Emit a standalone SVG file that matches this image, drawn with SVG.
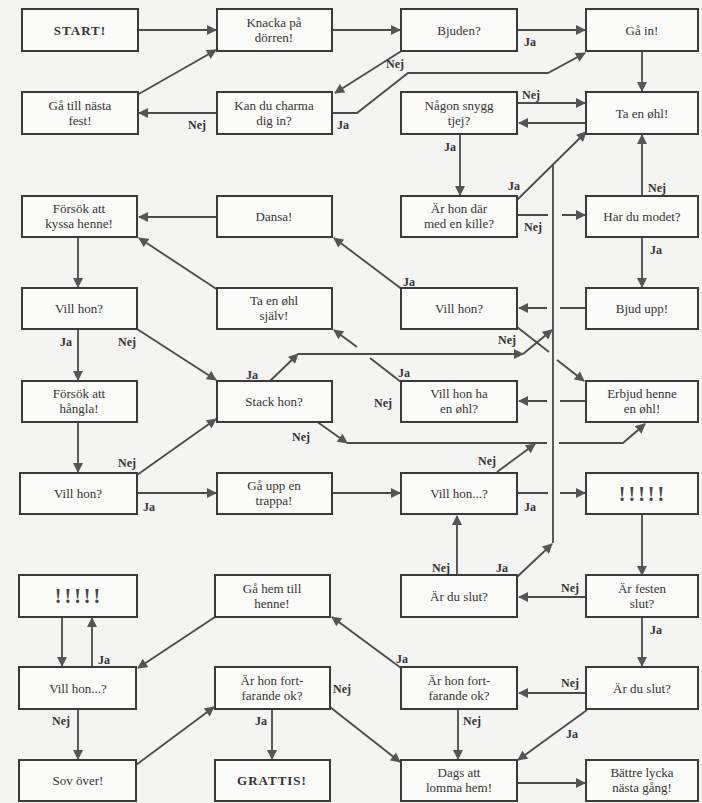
<svg xmlns="http://www.w3.org/2000/svg" width="702" height="803" viewBox="0 0 702 803">
<style>
.b{fill:#fbfbf9;stroke:#3a3a3a;stroke-width:2}
.t{font-family:"Liberation Serif","DejaVu Serif",serif;font-size:13px;fill:#333;text-anchor:middle}
.tb{font-family:"Liberation Serif","DejaVu Serif",serif;font-size:13px;font-weight:bold;fill:#333;text-anchor:middle;letter-spacing:1px}
.x{font-family:"Liberation Serif","DejaVu Serif",serif;font-size:20px;font-weight:bold;fill:#444;text-anchor:middle;letter-spacing:3px}
.l{font-family:"Liberation Serif","DejaVu Serif",serif;font-size:12px;font-weight:bold;fill:#333}
.c path{fill:none;stroke:#4a4a4a;stroke-width:1.8}
</style>
<defs>
<marker id="a" viewBox="0 0 10 10" refX="9" refY="5" markerWidth="11" markerHeight="10" orient="auto" markerUnits="userSpaceOnUse"><path d="M0,0 L10,5 L0,10 z" fill="#555"/></marker>
</defs>
<rect width="702" height="803" fill="#f4f4f2"/>

<g class="c" id="connectors">
<path d="M138,30 H216" marker-end="url(#a)"/>
<path d="M332,30 H400" marker-end="url(#a)"/>
<path d="M517,30 H585" marker-end="url(#a)"/>
<path d="M403,50 L335,93" marker-end="url(#a)"/>
<path d="M332,113 H357 L408,73 H548 L585,53" marker-end="url(#a)"/>
<path d="M217,113 H139" marker-end="url(#a)"/>
<path d="M137,95 L216,50" marker-end="url(#a)"/>
<path d="M642,51 V91" marker-end="url(#a)"/>
<path d="M517,103 H585" marker-end="url(#a)"/>
<path d="M586,123 H519" marker-end="url(#a)"/>
<path d="M460,134 V195" marker-end="url(#a)"/>
<path d="M517,200 L586,132" marker-end="url(#a)"/>
<path d="M553,543 V165"/>
<path d="M518,215 H548 M562,215 H585" marker-end="url(#a)"/>
<path d="M642,196 V135" marker-end="url(#a)"/>
<path d="M642,238 V287" marker-end="url(#a)"/>
<path d="M586,308 H560 M547,308 H519" marker-end="url(#a)"/>
<path d="M403,290 L334,238" marker-end="url(#a)"/>
<path d="M217,217 H139" marker-end="url(#a)"/>
<path d="M218,290 L139,238" marker-end="url(#a)"/>
<path d="M401,382 L370,358 M357,347 L334,330" marker-end="url(#a)"/>
<path d="M78,238 V287" marker-end="url(#a)"/>
<path d="M78,329 V380" marker-end="url(#a)"/>
<path d="M137,329 L216,380" marker-end="url(#a)"/>
<path d="M78,422 V472" marker-end="url(#a)"/>
<path d="M137,475 L216,419" marker-end="url(#a)"/>
<path d="M137,493 H216" marker-end="url(#a)"/>
<path d="M270,381 L298,354" marker-end="url(#a)"/>
<path d="M298,354 H523" marker-end="url(#a)"/>
<path d="M523,354 L552,330" marker-end="url(#a)"/>
<path d="M316,421 L347,443" marker-end="url(#a)"/>
<path d="M347,443 H547 M559,443 H623 L645,424" marker-end="url(#a)"/>
<path d="M517,327 L549,352 M557,360 L584,381" marker-end="url(#a)"/>
<path d="M497,472 L535,444" marker-end="url(#a)"/>
<path d="M586,401 H560 M547,401 H519" marker-end="url(#a)"/>
<path d="M332,493 H400" marker-end="url(#a)"/>
<path d="M517,493 H548 M560,493 H585" marker-end="url(#a)"/>
<path d="M642,515 V575" marker-end="url(#a)"/>
<path d="M586,597 H519" marker-end="url(#a)"/>
<path d="M457,576 V516" marker-end="url(#a)"/>
<path d="M517,577 L552,544" marker-end="url(#a)"/>
<path d="M642,617 V666" marker-end="url(#a)"/>
<path d="M586,693 H519" marker-end="url(#a)"/>
<path d="M587,710 L518,760" marker-end="url(#a)"/>
<path d="M458,709 V759" marker-end="url(#a)"/>
<path d="M401,668 L332,617" marker-end="url(#a)"/>
<path d="M517,783 H585" marker-end="url(#a)"/>
<path d="M215,617 L138,668" marker-end="url(#a)"/>
<path d="M62,617 V666" marker-end="url(#a)"/>
<path d="M92,667 V618" marker-end="url(#a)"/>
<path d="M78,709 V759" marker-end="url(#a)"/>
<path d="M136,765 L214,707" marker-end="url(#a)"/>
<path d="M272,709 V759" marker-end="url(#a)"/>
<path d="M330,707 L400,762" marker-end="url(#a)"/>
</g>

<g id="labels" class="l">
<text x="524" y="46">Ja</text>
<text x="386" y="68">Nej</text>
<text x="337" y="129">Ja</text>
<text x="188" y="129">Nej</text>
<text x="522" y="99">Nej</text>
<text x="444" y="151">Ja</text>
<text x="508" y="190">Ja</text>
<text x="524" y="231">Nej</text>
<text x="648" y="192">Nej</text>
<text x="650" y="254">Ja</text>
<text x="403" y="286">Ja</text>
<text x="498" y="344">Nej</text>
<text x="60" y="346">Ja</text>
<text x="118" y="346">Nej</text>
<text x="246" y="379">Ja</text>
<text x="398" y="377">Ja</text>
<text x="374" y="407">Nej</text>
<text x="292" y="441">Nej</text>
<text x="118" y="467">Nej</text>
<text x="143" y="511">Ja</text>
<text x="478" y="465">Nej</text>
<text x="524" y="511">Ja</text>
<text x="432" y="572">Nej</text>
<text x="496" y="572">Ja</text>
<text x="561" y="592">Nej</text>
<text x="650" y="634">Ja</text>
<text x="98" y="664">Ja</text>
<text x="396" y="663">Ja</text>
<text x="561" y="687">Nej</text>
<text x="333" y="693">Nej</text>
<text x="52" y="725">Nej</text>
<text x="255" y="725">Ja</text>
<text x="463" y="725">Nej</text>
<text x="566" y="738">Ja</text>
</g>

<g id="start"><rect class="b" x="22" y="9" width="116" height="42"/><text class="tb" x="80" y="35">START!</text></g>
<g id="knacka"><rect class="b" x="217" y="9" width="115" height="42"/><text class="t" x="274" y="27">Knacka på</text><text class="t" x="274" y="42">dörren!</text></g>
<g id="bjuden"><rect class="b" x="401" y="9" width="116" height="42"/><text class="t" x="459" y="35">Bjuden?</text></g>
<g id="gain"><rect class="b" x="586" y="9" width="112" height="42"/><text class="t" x="642" y="35">Gå in!</text></g>

<g id="nastafest"><rect class="b" x="22" y="92" width="116" height="42"/><text class="t" x="80" y="110">Gå till nästa</text><text class="t" x="80" y="125">fest!</text></g>
<g id="charma"><rect class="b" x="217" y="92" width="115" height="42"/><text class="t" x="274" y="110">Kan du charma</text><text class="t" x="274" y="125">dig in?</text></g>
<g id="snygg"><rect class="b" x="401" y="92" width="116" height="42"/><text class="t" x="459" y="110">Någon snygg</text><text class="t" x="459" y="125">tjej?</text></g>
<g id="taenohl"><rect class="b" x="586" y="92" width="112" height="42"/><text class="t" x="642" y="118">Ta en øhl!</text></g>

<g id="kyssa"><rect class="b" x="22" y="196" width="115" height="41"/><text class="t" x="79" y="213">Försök att</text><text class="t" x="79" y="228">kyssa henne!</text></g>
<g id="dansa"><rect class="b" x="217" y="196" width="115" height="41"/><text class="t" x="274" y="221">Dansa!</text></g>
<g id="kille"><rect class="b" x="401" y="196" width="116" height="41"/><text class="t" x="459" y="213">Är hon där</text><text class="t" x="459" y="228">med en kille?</text></g>
<g id="modet"><rect class="b" x="586" y="196" width="112" height="41"/><text class="t" x="642" y="221">Har du modet?</text></g>

<g id="villhon1"><rect class="b" x="22" y="288" width="115" height="41"/><text class="t" x="79" y="313">Vill hon?</text></g>
<g id="sjalv"><rect class="b" x="217" y="288" width="115" height="41"/><text class="t" x="274" y="305">Ta en øhl</text><text class="t" x="274" y="320">själv!</text></g>
<g id="villhon2"><rect class="b" x="401" y="288" width="116" height="41"/><text class="t" x="459" y="313">Vill hon?</text></g>
<g id="bjudupp"><rect class="b" x="586" y="288" width="112" height="41"/><text class="t" x="642" y="313">Bjud upp!</text></g>

<g id="hangla"><rect class="b" x="22" y="381" width="115" height="41"/><text class="t" x="79" y="398">Försök att</text><text class="t" x="79" y="413">hångla!</text></g>
<g id="stack"><rect class="b" x="217" y="381" width="115" height="41"/><text class="t" x="274" y="406">Stack hon?</text></g>
<g id="villohl"><rect class="b" x="401" y="381" width="116" height="41"/><text class="t" x="459" y="398">Vill hon ha</text><text class="t" x="459" y="413">en øhl?</text></g>
<g id="erbjud"><rect class="b" x="586" y="381" width="112" height="41"/><text class="t" x="642" y="398">Erbjud henne</text><text class="t" x="642" y="413">en øhl!</text></g>

<g id="villhon3"><rect class="b" x="20" y="473" width="117" height="41"/><text class="t" x="78" y="498">Vill hon?</text></g>
<g id="trappa"><rect class="b" x="217" y="473" width="115" height="41"/><text class="t" x="274" y="490">Gå upp en</text><text class="t" x="274" y="505">trappa!</text></g>
<g id="villhon4"><rect class="b" x="401" y="473" width="116" height="41"/><text class="t" x="459" y="498">Vill hon...?</text></g>
<g id="excl1"><rect class="b" x="586" y="473" width="112" height="41"/><text class="x" x="643" y="501">!!!!!</text></g>

<g id="excl2"><rect class="b" x="19" y="575" width="118" height="42"/><text class="x" x="79" y="603">!!!!!</text></g>
<g id="gahem"><rect class="b" x="215" y="575" width="115" height="42"/><text class="t" x="272" y="593">Gå hem till</text><text class="t" x="272" y="608">henne!</text></g>
<g id="duslut1"><rect class="b" x="401" y="575" width="116" height="42"/><text class="t" x="459" y="601">Är du slut?</text></g>
<g id="festen"><rect class="b" x="586" y="575" width="112" height="42"/><text class="t" x="642" y="593">Är festen</text><text class="t" x="642" y="608">slut?</text></g>

<g id="villhon5"><rect class="b" x="19" y="667" width="117" height="42"/><text class="t" x="78" y="693">Vill hon...?</text></g>
<g id="fortok1"><rect class="b" x="215" y="667" width="115" height="42"/><text class="t" x="272" y="685">Är hon fort-</text><text class="t" x="272" y="700">farande ok?</text></g>
<g id="fortok2"><rect class="b" x="401" y="667" width="116" height="42"/><text class="t" x="459" y="685">Är hon fort-</text><text class="t" x="459" y="700">farande ok?</text></g>
<g id="duslut2"><rect class="b" x="586" y="667" width="112" height="42"/><text class="t" x="642" y="693">Är du slut?</text></g>

<g id="sovover"><rect class="b" x="19" y="760" width="117" height="41"/><text class="t" x="78" y="785">Sov över!</text></g>
<g id="grattis"><rect class="b" x="215" y="760" width="115" height="41"/><text class="tb" x="272" y="785">GRATTIS!</text></g>
<g id="lomma"><rect class="b" x="401" y="760" width="116" height="41"/><text class="t" x="459" y="777">Dags att</text><text class="t" x="459" y="792">lomma hem!</text></g>
<g id="battre"><rect class="b" x="586" y="760" width="112" height="41"/><text class="t" x="642" y="777">Bättre lycka</text><text class="t" x="642" y="792">nästa gång!</text></g>
</svg>
